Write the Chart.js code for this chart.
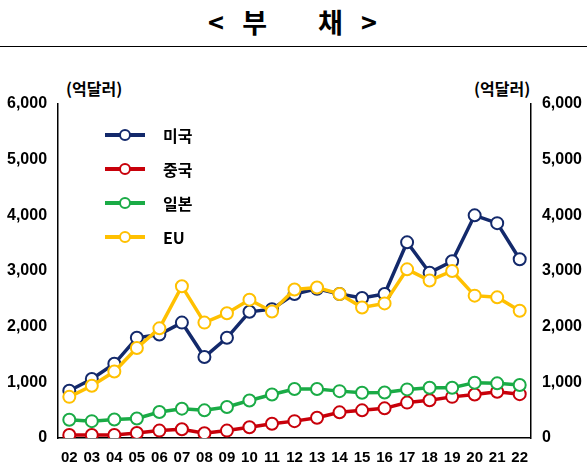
<!DOCTYPE html><html><head><meta charset="utf-8">
<script src="https://cdn.jsdelivr.net/npm/chart.js"></script>
<style>body{margin:0;width:587px;height:470px;background:#fff;font-family:"Noto Sans CJK KR",sans-serif;position:relative}
#t{position:absolute;top:2px;left:0;width:587px;text-align:center;font-size:27px;font-weight:bold;letter-spacing:2px}
#hr{position:absolute;top:46px;left:0;width:587px;border-top:1px solid #000}
.u{position:absolute;top:76px;font-size:16px;font-weight:bold}
#lg{position:absolute;left:105px;top:118px;font-size:16px;font-weight:bold}
#lg div{height:34px;display:flex;align-items:center}
#lg span.l{display:inline-block;width:40px;height:4px;margin-right:18px;position:relative}
#lg span.l i{position:absolute;left:14px;top:-4px;width:8px;height:8px;border-radius:50%;background:#fff;border:2px solid}
#c{position:absolute;left:0;top:80px}</style></head><body>
<div id="t">&lt;&nbsp;&nbsp;부&nbsp;&nbsp;&nbsp;&nbsp;&nbsp;&nbsp;채&nbsp;&nbsp;&gt;</div><div id="hr"></div>
<div class="u" style="left:66px">(억달러)</div><div class="u" style="left:474px">(억달러)</div>
<canvas id="c" width="587" height="390"></canvas>
<div id="lg"></div>
<script>
const years=["02","03","04","05","06","07","08","09","10","11","12","13","14","15","16","17","18","19","20","21","22"];
const us=[848,1061,1333,1800,1860,2073,1454,1800,2267,2315,2588,2679,2588,2515,2588,3515,2970,3176,4000,3860,3212];
const china=[55,55,55,90,133,157,85,133,194,255,303,364,461,497,533,636,679,739,782,830,788];
const japan=[327,303,333,351,467,527,497,558,673,782,879,879,842,812,818,873,903,903,994,982,952];
const eu=[739,939,1194,1618,1970,2727,2073,2242,2485,2273,2667,2703,2588,2345,2418,3030,2830,3000,2557,2527,2285];
const names=["미국","중국","일본","EU"];
const cols=["#13296b","#c8000a","#1aab46","#ffc000"];
const data=[us,china,japan,eu];
document.getElementById('lg').innerHTML=names.map((n,i)=>`<div><span class="l" style="background:${cols[i]}"><i style="border-color:${cols[i]}"></i></span>${n}</div>`).join('');
const ds=[3,2,1,0].map(i=>({label:names[i],data:data[i],borderColor:cols[i],backgroundColor:'#fff',borderWidth:3.5,pointRadius:6,pointBorderWidth:2,pointBackgroundColor:'#fff'}));
const tk={font:{size:16,weight:'bold',family:'Liberation Sans'},color:'#000',callback:v=>v.toLocaleString('en-US')};
new Chart(document.getElementById('c'),{type:'line',data:{labels:years,datasets:ds},options:{responsive:false,animation:false,
layout:{padding:{top:24,right:2,bottom:0,left:4}},
plugins:{legend:{display:false},tooltip:{enabled:false}},
scales:{x:{grid:{display:false,drawTicks:true},border:{color:'#000',width:1.5},ticks:{font:{size:15,weight:'bold',family:'Liberation Sans'},color:'#000',autoSkip:false,maxRotation:0,minRotation:0},offset:true},
y:{min:0,max:6000,ticks:{...tk,stepSize:1000},grid:{display:false},border:{color:'#000',width:1.5}},
y2:{position:'right',min:0,max:6000,ticks:{...tk,stepSize:1000},grid:{display:false},border:{color:'#000',width:1.5}}}}});
</script></body></html>
